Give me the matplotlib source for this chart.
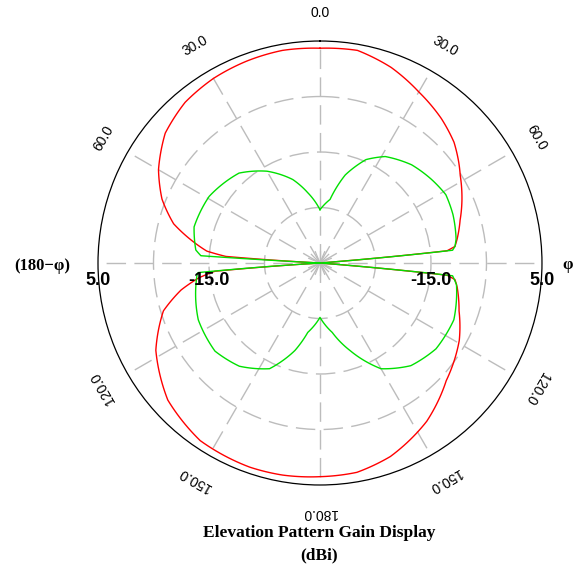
import numpy as np
import matplotlib
matplotlib.use("Agg")
import matplotlib.pyplot as plt

# Elevation pattern: angle in degrees (clockwise from top), gain in dBi
red_theta = [0, 10, 20, 30, 40, 48, 54, 58, 66, 73, 80, 83, 84.5, 85.5, 94.5,
             95.5, 97, 100, 109, 119, 133, 146, 160, 170, 180, 190, 199, 214, 228, 242,
             253, 259, 263, 265.5, 266.5, 273, 274, 276, 280, 285, 292, 300, 310, 320,
             330, 340, 350, 360]
red_gain = [3.7, 3.9, 2.5, 0.6, -1.0, -2.5, -4.1, -5.2, -7.0, -8.6, -9.9, -10.5, -12, -35, -35,
            -12, -10.5, -9.9, -8.5, -6.3, -3.9, -0.6, 2.1, 3.3, 3.5, 3.8, 3.9, 3.6, 1.9, -1.5,
            -5.5, -9.5, -13, -16, -35, -35, -18, -14.5, -11.5, -7.7, -4.3, -1.4, 1.4, 2.8,
            3.4, 3.7, 3.9, 3.7]

green_theta = [0, 9, 16, 24, 31.5, 43, 53, 61.5, 70, 80, 83, 84.5, 85.5, 94.5, 95.5,
               99, 113, 126.5, 138.5, 150, 161, 170, 180, 190, 196, 205.5, 218, 230, 245,
               260, 265, 265.5, 266.5, 273, 273.5, 276, 286, 301, 318, 330, 342, 350, 360]
green_gain = [-25.4, -23.4, -18.5, -14.6, -12.5, -10.8, -9.9, -9.2, -9.5, -10.1, -10.5, -11, -35, -35, -11,
              -10.1, -8.8, -9.0, -10.3, -13.0, -18.3, -22.3, -25.2, -22.3, -18.6, -13.9, -11.4, -10.3, -10.8,
              -12.3, -12.8, -13, -35, -35, -13.5, -12.5, -11.4, -11.7, -13.2, -15.9, -19.2, -22.1, -25.4]

r_min, r_max = -35, 5
ring_values = [-25, -15, -5]
r_labels = ["-15.0", "5.0"]
r_label_values = [-15, 5]

angle_pos = [0, 30, 60, 120, 150, 180, 210, 240, 300, 330]
angle_text = ["0.0", "30.0", "60.0", "120.0", "150.0", "180.0", "150.0", "120.0", "60.0", "30.0"]

fig = plt.figure(figsize=(5.75, 5.72), dpi=100)
ax = fig.add_axes([0.1704, 0.1521, 0.7722, 0.7762], projection="polar")
ax.set_theta_zero_location("N")
ax.set_theta_direction(-1)
ax.set_ylim(r_min, r_max)

grid_col = "#bcbcbc"
ax.set_yticks(ring_values)
ax.set_yticklabels([])
ax.set_xticks(np.deg2rad(np.arange(0, 360, 30)))
ax.set_xticklabels([])
ax.tick_params(length=0)
ax.grid(True, color=grid_col, linewidth=1.0, linestyle=(0, (14, 6)))
ax.spines["polar"].set_color("black")
ax.spines["polar"].set_linewidth(0.9)

# little star at the centre
for a in np.arange(0, 360, 22.5):
    ax.plot([np.deg2rad(a)] * 2, [r_min, r_min + 2.2], color=grid_col, lw=0.9)

for th, g, c in [(red_theta, red_gain, "#ff0000"), (green_theta, green_gain, "#00e000")]:
    line, = ax.plot(np.deg2rad(th), g, color=c, lw=1.0)
    # let the polar transform draw arcs between the read points
    line.get_path()._interpolation_steps = 12

# angle labels, tangential
for a, t in zip(angle_pos, angle_text):
    ax.text(np.deg2rad(a), 10.1, t, rotation=-a, rotation_mode="anchor",
            ha="center", va="center", fontsize=10, family="Liberation Sans",
            clip_on=False)

# radial labels on both sides
for t, v in zip(r_labels, r_label_values):
    for a in (90, 270):
        ax.annotate(t, xy=(np.deg2rad(a), v), xytext=(0, -12.5), textcoords="offset points",
                    ha="center", va="center", fontsize=13, fontweight="bold",
                    family="Liberation Sans", annotation_clip=False)

fig.text(568 / 575, 1 - 265 / 572, "φ", ha="center", va="center", fontsize=12,
         fontweight="bold", family="Liberation Serif")
fig.text(42 / 575, 1 - 266 / 572, "(180\u2212φ)", ha="center", va="center", fontsize=12,
         fontweight="bold", family="Liberation Serif")

fig.text(319 / 575, 1 - 533 / 572, "Elevation Pattern Gain Display", ha="center", va="center",
         fontsize=12.5, fontweight="bold", family="Liberation Serif")
fig.text(319 / 575, 1 - 555 / 572, "(dBi)", ha="center", va="center",
         fontsize=12.5, fontweight="bold", family="Liberation Serif")

fig.savefig("out.png", dpi=100)
